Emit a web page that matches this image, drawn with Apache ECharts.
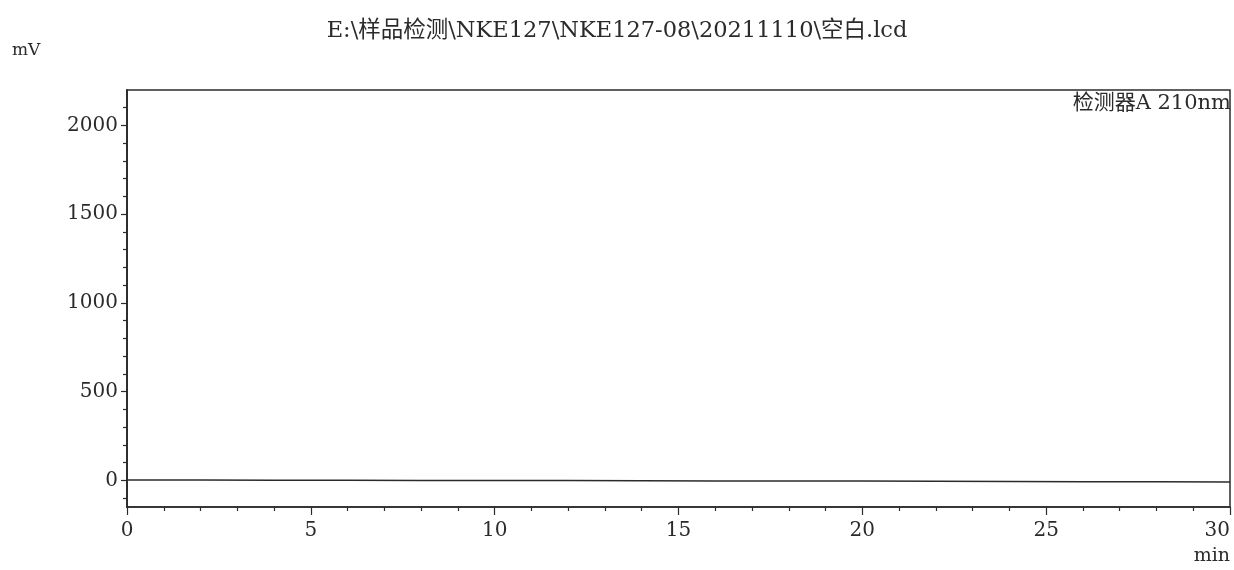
<!DOCTYPE html>
<html>
<head>
<meta charset="utf-8">
<script src="https://cdn.jsdelivr.net/npm/echarts@6/dist/echarts.min.js"></script>
<style>html,body{margin:0;padding:0;background:#fff}#c{width:1234px;height:570px}</style>
</head>
<body>
<div id="c"></div>
<script>
var titleText = 'E:\\样品检测\\NKE127\\NKE127-08\\20211110\\空白.lcd';
var detectorLabel = '检测器A 210nm';
var yUnit = 'mV';
var xUnit = 'min';
// retention time (min) and signal (mV)
var timeMin = [0, 2, 4, 6, 8, 10, 12, 14, 16, 18, 20, 22, 24, 26, 28, 30];
var signalMv = [2, 2, 1, 1, 0, -1, -1, -2, -3, -3, -4, -5, -6, -7, -8, -9];
var yMajorTicks = [0, 500, 1000, 1500, 2000];
var yMinorTicks = [-100, 100, 200, 300, 400, 600, 700, 800, 900, 1100, 1200, 1300, 1400, 1600, 1700, 1800, 1900, 2100];

var serif = 'DejaVu Serif, Liberation Serif, Noto Sans CJK SC, serif';
var ink = '#2b2b2b';
var chart = echarts.init(document.getElementById('c'), null, {renderer: 'canvas'});
var pts = timeMin.map(function (t, i) { return [t, signalMv[i]]; });
var plain = function (v) { return String(v); };
var yCommon = {
  type: 'value', min: -150, max: 2200,
  splitLine: {show: false},
  axisLine: {show: true, lineStyle: {color: ink, width: 1.5}}
};
chart.setOption({
  animation: false,
  backgroundColor: '#fff',
  title: {
    text: titleText, left: 'center', top: 15,
    textStyle: {fontFamily: serif, fontSize: 22.5, fontWeight: 'normal', color: ink}
  },
  grid: {left: 127, right: 4, top: 90, bottom: 63, outerBoundsMode: 'none', containLabel: false,
    show: true, borderColor: ink, borderWidth: 1.5, backgroundColor: 'transparent'},
  xAxis: {
    type: 'value', min: 0, max: 30, interval: 5,
    splitLine: {show: false},
    axisLine: {show: true, onZero: false, lineStyle: {color: ink, width: 1.5}},
    axisTick: {show: true, length: 8, lineStyle: {color: ink, width: 1.2}},
    minorTick: {show: true, splitNumber: 5, length: 4, lineStyle: {color: ink, width: 1.2}},
    axisLabel: {margin: 14, fontFamily: serif, fontSize: 20, color: ink, formatter: plain,
      hideOverlap: false, alignMaxLabel: 'right'}
  },
  yAxis: [
    Object.assign({}, yCommon, {
      axisTick: {show: true, length: 6, customValues: yMajorTicks, lineStyle: {color: ink, width: 1.2}},
      axisLabel: {customValues: yMajorTicks, margin: 9, fontFamily: serif, fontSize: 20, color: ink, formatter: plain}
    }),
    Object.assign({}, yCommon, {
      position: 'left',
      axisTick: {show: true, length: 4, customValues: yMinorTicks, lineStyle: {color: ink, width: 1.2}},
      axisLabel: {show: false}
    })
  ],
  graphic: [
    {type: 'text', left: 12, top: 42, style: {text: yUnit, font: '17px ' + serif, fill: ink}},
    {type: 'text', right: 4, top: 547, style: {text: xUnit, font: '19px ' + serif, fill: ink}},
    {type: 'text', right: 3, top: 93, style: {text: detectorLabel, font: '21px ' + serif, fill: ink}}
  ],
  series: [{
    type: 'line', data: pts, showSymbol: false, symbol: 'none',
    lineStyle: {color: ink, width: 1.5}, silent: true
  }]
});
</script>
</body>
</html>
